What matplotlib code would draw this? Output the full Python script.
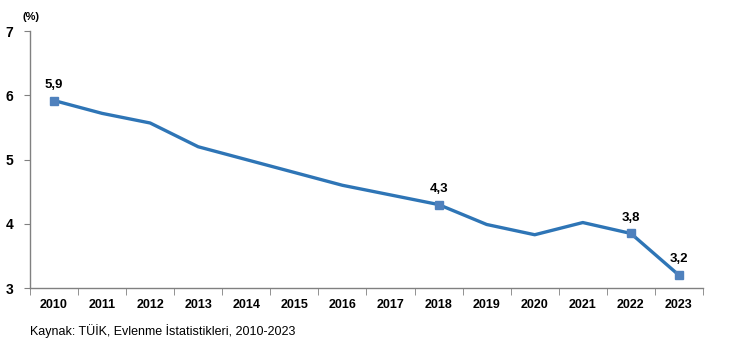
import numpy as np
import matplotlib.pyplot as plt

plt.rcParams['font.family'] = ['Liberation Sans', 'DejaVu Sans']

years = ['2010', '2011', '2012', '2013', '2014', '2015', '2016',
         '2017', '2018', '2019', '2020', '2021', '2022', '2023']
rate = [5.92, 5.72, 5.57, 5.2, 5.0, 4.8, 4.6, 4.45, 4.3, 3.99, 3.83, 4.02, 3.85, 3.2]
labeled = [0, 8, 12, 13]
label_text = ['5,9', '4,3', '3,8', '3,2']

fig = plt.figure(figsize=(7.3, 3.5), dpi=100)
ax = fig.add_axes([0.041, 0.177, 0.922, 0.734])

x = np.arange(len(years))
ax.plot(x, rate, color='#2E75B6', lw=2.4, solid_joinstyle='round',
        marker='s', markersize=6, markevery=labeled,
        markerfacecolor='#4F81BD', markeredgecolor='#4F81BD', zorder=3)

for i, t in zip(labeled, label_text):
    ax.annotate(t, (x[i], rate[i]), xytext=(0, 7), textcoords='offset points',
                ha='center', va='bottom', fontsize=9.5, fontweight='bold')

ax.set_xlim(-0.5, len(years) - 0.5)
ax.set_ylim(3, 7)
ax.set_yticks([3, 4, 5, 6, 7])
ax.set_yticklabels(['3', '4', '5', '6', '7'], fontsize=10, fontweight='bold')
ax.set_xticks(x)
ax.set_xticklabels(years, fontsize=9, fontweight='bold')
ax.set_xticks(np.arange(-0.5, len(years)), minor=True)
ax.tick_params(axis='x', which='major', length=0, pad=8)
ax.tick_params(axis='x', which='minor', length=5, color='#808080', direction='out')
ax.tick_params(axis='y', which='major', length=4, color='#808080', pad=8)

for s in ['top', 'right']:
    ax.spines[s].set_visible(False)
for s in ['left', 'bottom']:
    ax.spines[s].set_color('#808080')
    ax.spines[s].set_linewidth(1)

fig.text(0.043, 0.952, '(%)', ha='center', va='center', fontsize=8, fontweight='bold')
fig.text(0.041, 0.054, 'Kaynak: TÜİK, Evlenme İstatistikleri, 2010-2023',
         ha='left', va='center', fontsize=9)

fig.savefig('out.png', dpi=100)
